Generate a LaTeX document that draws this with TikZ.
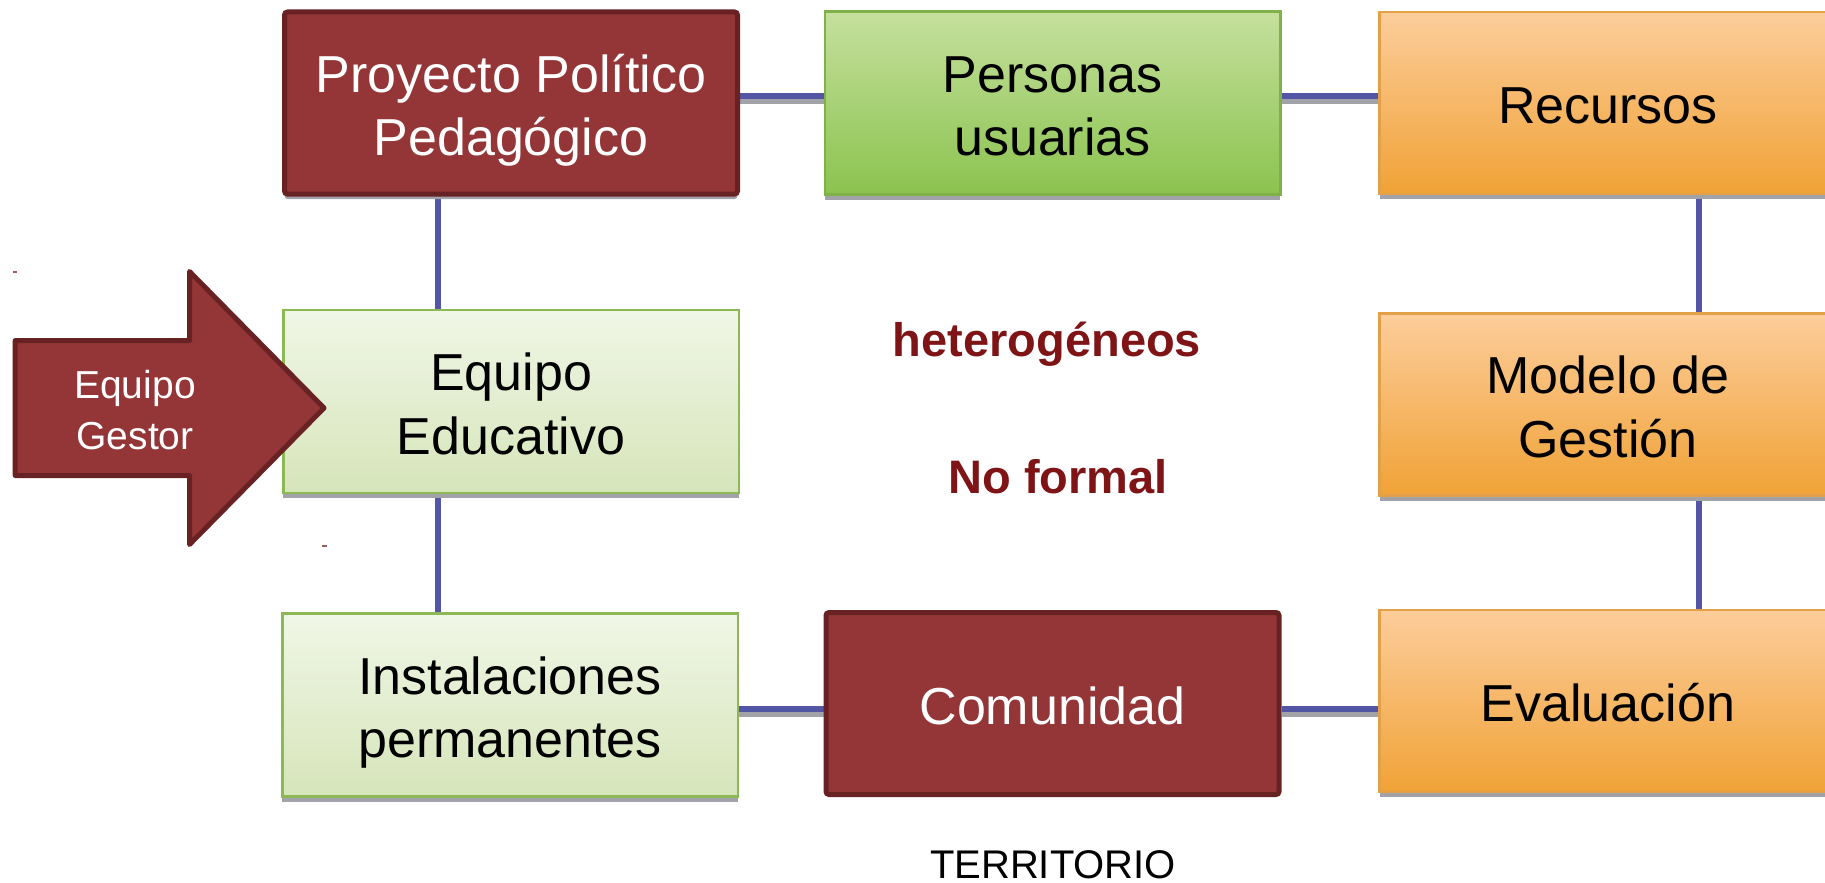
\documentclass[tikz,border=0pt]{standalone}
\usepackage{fontspec}
\setmainfont{Liberation Sans}
\usetikzlibrary{shadows,backgrounds}
\definecolor{dred}{RGB}{148,54,55}
\definecolor{dredb}{RGB}{104,34,36}
\definecolor{txtred}{RGB}{127,20,23}
\definecolor{lineblue}{RGB}{83,85,165}
\definecolor{shgray}{RGB}{162,163,168}
\definecolor{ortop}{RGB}{252,205,155}
\definecolor{orbot}{RGB}{240,162,54}
\definecolor{orbd}{RGB}{226,160,72}
\definecolor{grtop}{RGB}{197,224,157}
\definecolor{grbot}{RGB}{139,195,79}
\definecolor{grbd}{RGB}{128,176,72}
\definecolor{lgtop}{RGB}{240,246,230}
\definecolor{lgbot}{RGB}{214,229,186}
\definecolor{lgbd}{RGB}{140,185,85}
\definecolor{tickc}{RGB}{150,95,95}
\newcommand\lnst{\rule[-0.22em]{0pt}{1.245em}}
\lineskiplimit=-100pt
\begin{document}
\begin{tikzpicture}[x=1pt,y=-1pt,
  box/.style={rectangle, inner sep=0pt, align=center,
    font=\fontsize{52}{63.5}\selectfont},
  shd/.style={drop shadow={shadow xshift=0pt, shadow yshift=-5pt, fill=shgray, opacity=1}},
  redbox/.style={box, fill=dred, draw=dredb, line width=5pt, rounded corners=3pt,
    text=white, minimum width=453pt, minimum height=182pt},
  greenbox/.style={box, shd, top color=grtop, bottom color=grbot, draw=grbd, line width=2.5pt,
    minimum width=455.5pt, minimum height=183pt},
  lgbox/.style={box, shd, top color=lgtop, bottom color=lgbot, draw=lgbd, line width=2.5pt,
    minimum width=455.5pt, minimum height=183pt},
  orbox/.style={box, shd, top color=ortop, bottom color=orbot, draw=orbd, line width=2.5pt,
    minimum width=457pt, minimum height=182pt},
  conn/.style={draw=lineblue, line width=6pt,
    preaction={draw=shgray, line width=6pt, transform canvas={yshift=-5pt}}},
  vconn/.style={draw=lineblue, line width=6pt},
  redtxt/.style={inner sep=0pt, text=txtred, font=\fontsize{47}{56}\selectfont\bfseries},
  plaintxt/.style={inner sep=0pt, font=\fontsize{40}{48}\selectfont},
  tick/.style={draw=tickc, line width=1.2pt}
]
\useasboundingbox (0,0) rectangle (1825,883);

% boxes
\node[redbox, shd] (ppp) at (511,103) {\lnst Proyecto Político\\\lnst Pedagógico};
\node[greenbox] (pers) at (1052.5,103) {\lnst Personas\\\lnst usuarias};
\node[orbox] (rec) at (1608,103) {\lnst Recursos};
\node[lgbox] (equ) at (511,401.5) {\lnst Equipo\\\lnst Educativo};
\node[orbox] (mod) at (1608,404.7) {\lnst Modelo de\\\lnst Gestión};
\node[lgbox] (inst) at (510,705) {\lnst Instalaciones\\\lnst permanentes};
\node[redbox] (com) at (1052.5,703.5) {\lnst Comunidad};
\node[orbox] (eva) at (1608,701) {\lnst Evaluación};

% connectors
\begin{scope}[on background layer]
  \draw[conn] ([yshift=7.5pt]ppp.east) -- ([yshift=7.5pt]ppp.east -| pers.west);
  \draw[conn] ([yshift=7.5pt]pers.east) -- ([yshift=7.5pt]pers.east -| rec.west);
  \draw[vconn] ([xshift=-73pt]ppp.south) -- ([xshift=-73pt]ppp.south |- equ.north);
  \draw[vconn] ([xshift=-73pt]equ.south) -- ([xshift=-73pt]equ.south |- inst.north);
  \draw[vconn] ([xshift=90.7pt]rec.south) -- ([xshift=90.7pt]rec.south |- mod.north);
  \draw[vconn] ([xshift=90.7pt]mod.south) -- ([xshift=90.7pt]mod.south |- eva.north);
  \draw[conn] ([yshift=-5.5pt]com.west) -- ([yshift=-5.5pt]com.west -| inst.east);
  \draw[conn] ([yshift=-5pt]com.east) -- ([yshift=-5pt]com.east -| eva.west);
\end{scope}

% arrow "Equipo Gestor"
\draw[fill=dred, draw=dredb, line width=5pt, line join=round]
  (15.2,340.5) -- (189.5,340.5) -- (189.5,271.5) -- (324,408) -- (189.5,544.5)
  -- (189.5,475.5) -- (15.2,475.5) -- cycle;
\node[inner sep=0pt, align=center, text=white,
  font=\fontsize{39}{51}\selectfont] (gestor) at (135,408.5)
  {\lnst Equipo\\\lnst Gestor};

% free texts
\node[redtxt] (het) at (1047,337.8) {\lnst heterogéneos};
\node[redtxt] (nof) at (1058,474.4) {\lnst No formal};
\node[plaintxt, anchor=base] (terr) at (1053,878) {TERRITORIO};

% tiny marks
\draw[tick] (13,272) -- (17,272);
\draw[tick] (322,546) -- (327,546);
\end{tikzpicture}
\end{document}
